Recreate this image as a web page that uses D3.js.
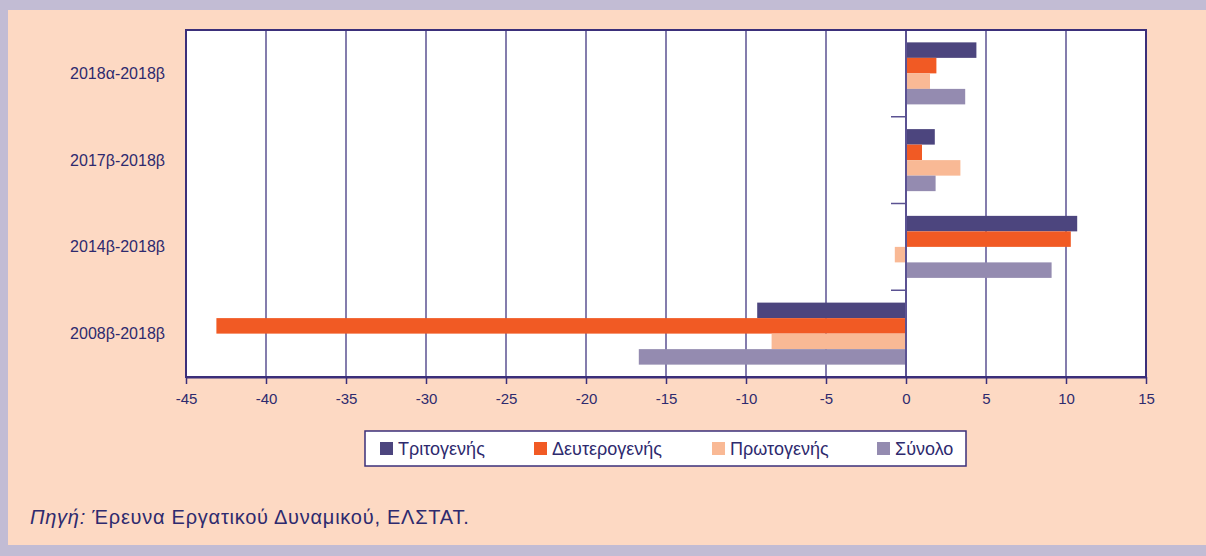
<!DOCTYPE html>
<html><head><meta charset="utf-8">
<script src="https://cdn.jsdelivr.net/npm/d3@7"></script>
<style>html,body{margin:0;padding:0;background:#C2BCD4;}svg{display:block;font-family:"Liberation Sans",Arial,Helvetica,sans-serif;}</style>
</head><body>
<script>
const categories = ["2018α-2018β","2017β-2018β","2014β-2018β","2008β-2018β"];
const seriesNames = ["Τριτογενής","Δευτερογενής","Πρωτογενής","Σύνολο"];
const seriesColors = ["#4C457E","#F15A24","#F9B995","#948BB0"];
const tritogenis = [4.4, 1.8, 10.7, -9.3];
const defterogenis = [1.9, 1.0, 10.3, -43.1];
const protogenis = [1.5, 3.4, -0.7, -8.4];
const synolo = [3.7, 1.85, 9.1, -16.7];
const xTicks = [-45,-40,-35,-30,-25,-20,-15,-10,-5,0,5,10,15];
const seriesValues = [tritogenis, defterogenis, protogenis, synolo];

const W = 1206, H = 556;
const textColor = "#2E2A6E";
const svg = d3.select("body").append("svg").attr("width", W).attr("height", H);
svg.append("rect").attr("width", W).attr("height", H).attr("fill", "#C2BCD4");
svg.append("rect").attr("x", 8).attr("y", 10).attr("width", W - 8).attr("height", 535).attr("fill", "#FDD9C3");

const plot = {left: 186, right: 1146, top: 30, bottom: 377};
const x = d3.scaleLinear().domain([-45, 15]).range([plot.left, plot.right]);
const y0 = d3.scaleBand().domain(categories).range([plot.top, plot.bottom]).paddingInner(0.285).paddingOuter(0.1425);
const y1 = d3.scaleBand().domain(seriesNames).range([0, y0.bandwidth()]).padding(0);

svg.append("rect").attr("x", plot.left).attr("y", plot.top).attr("width", plot.right - plot.left).attr("height", plot.bottom - plot.top).attr("fill", "#fff");

// gridlines
svg.append("g").selectAll("line").data(xTicks.filter(d => d > -45 && d < 15)).join("line")
  .attr("x1", d => x(d)).attr("x2", d => x(d)).attr("y1", plot.top).attr("y2", plot.bottom)
  .attr("stroke", "#5B5292").attr("stroke-width", 1.5);

// bars
const rows = [];
categories.forEach((c, i) => seriesNames.forEach((s, j) => rows.push({c, s, j, v: seriesValues[j][i]})));
svg.append("g").selectAll("rect").data(rows).join("rect")
  .attr("x", d => x(Math.min(0, d.v)))
  .attr("width", d => Math.abs(x(d.v) - x(0)))
  .attr("y", d => y0(d.c) + y1(d.s))
  .attr("height", y1.bandwidth())
  .attr("fill", d => seriesColors[d.j]);

// zero axis with category boundary ticks
svg.append("line").attr("x1", x(0)).attr("x2", x(0)).attr("y1", plot.top).attr("y2", plot.bottom).attr("stroke", "#5B5292").attr("stroke-width", 2);
const boundaries = d3.range(1, categories.length + 1).map(i => plot.top + i * (plot.bottom - plot.top) / categories.length);
svg.append("g").selectAll("line").data(boundaries).join("line")
  .attr("x1", x(0) - 15).attr("x2", x(0)).attr("y1", d => d).attr("y2", d => d)
  .attr("stroke", "#5B5292").attr("stroke-width", 1.5);

// plot border
svg.append("rect").attr("x", plot.left).attr("y", plot.top).attr("width", plot.right - plot.left).attr("height", plot.bottom - plot.top)
  .attr("fill", "none").attr("stroke", "#3B2F7A").attr("stroke-width", 2);

// x axis
const xAxis = d3.axisBottom(x).tickValues(xTicks).tickSize(7).tickSizeOuter(0).tickPadding(9).tickFormat(d3.format("d"));
const gx = svg.append("g").attr("transform", `translate(0,${plot.bottom})`).call(xAxis);
gx.select(".domain").attr("stroke", "#3B2F7A").attr("stroke-width", 2);
gx.selectAll(".tick line").attr("stroke", "#3B2F7A").attr("stroke-width", 1.5);
gx.selectAll(".tick text").attr("fill", textColor).attr("font-size", 15).attr("font-family", "Liberation Sans, Arial, sans-serif")
  .text(d => d < 0 ? "-" + Math.abs(d) : d);

// category labels
svg.append("g").selectAll("text").data(categories).join("text")
  .attr("x", 165).attr("y", d => y0(d) - y0.step() * 0.1425 + (plot.bottom - plot.top) / categories.length / 2)
  .attr("dy", "0.35em").attr("text-anchor", "end").attr("fill", textColor).attr("font-size", 16).text(d => d);

// legend
const lg = svg.append("g");
lg.append("rect").attr("x", 365).attr("y", 431).attr("width", 601).attr("height", 35).attr("fill", "#fff").attr("stroke", "#3B2F7A").attr("stroke-width", 1.5);
const legendX = [380, 534, 712, 877];
seriesNames.forEach((s, j) => {
  lg.append("rect").attr("x", legendX[j]).attr("y", 442).attr("width", 13).attr("height", 13).attr("fill", seriesColors[j]);
  lg.append("text").attr("x", legendX[j] + 18).attr("y", 455).attr("fill", textColor).attr("font-size", 18).text(s);
});

// source
const src = svg.append("text").attr("x", 30).attr("y", 524).attr("fill", textColor).attr("font-size", 20).attr("letter-spacing", 0.75);
src.append("tspan").attr("font-style", "italic").text("Πηγή:");
src.append("tspan").text(" Έρευνα Εργατικού Δυναμικού, ΕΛΣΤΑΤ.");
</script>
</body></html>
